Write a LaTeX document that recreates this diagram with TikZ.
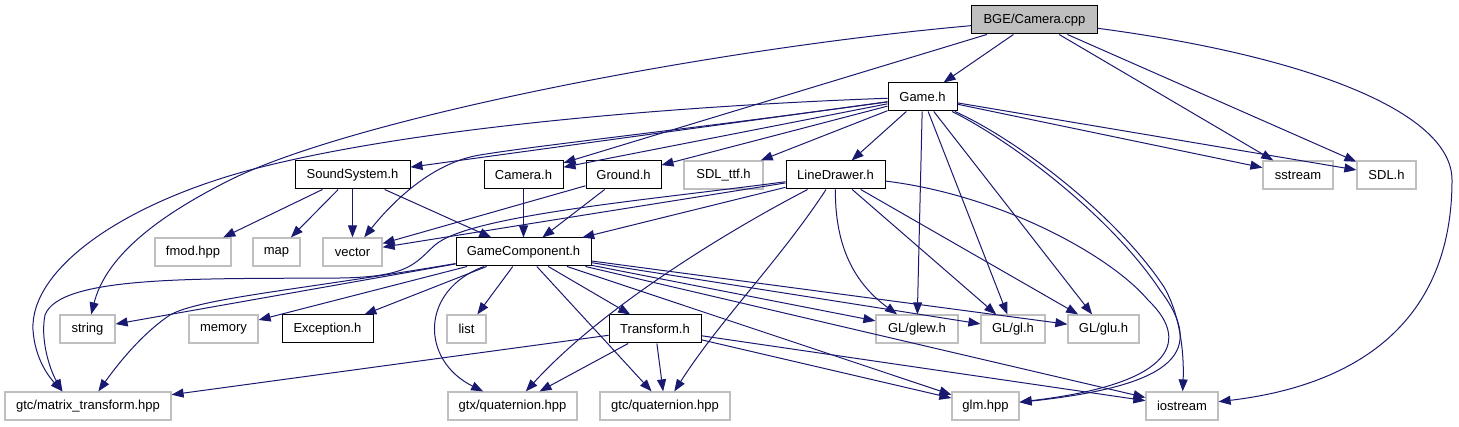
\documentclass[tikz,border=0pt]{standalone}
\usepackage{fontspec}
\setmainfont{Liberation Sans}
\usetikzlibrary{arrows.meta}
\definecolor{edgeblue}{HTML}{191970}
\definecolor{boxgray}{HTML}{BFBFBF}

\begin{document}
\begin{tikzpicture}[x=1pt, y=-1pt,
  hdr/.style={draw=black, line width=1pt, minimum height=28pt, inner sep=0pt, font=\fontsize{13}{15}\selectfont},
  ext/.style={hdr, draw=boxgray, line width=1.2pt},
  cur/.style={hdr, fill=boxgray},
  inc/.style={-{Triangle[length=12pt, width=9pt]}, draw=edgeblue, line width=1pt}
]
\useasboundingbox (0,0) rectangle (1459,427);
\node[cur, minimum width=126pt] (cpp) at (1034.5,20) {BGE/Camera.cpp};
\node[hdr, minimum width=69pt] (game) at (922.5,97) {Game.h};
\node[hdr, minimum width=115pt] (sound) at (352.5,175) {SoundSystem.h};
\node[hdr, minimum width=79pt] (camh) at (523.5,175) {Camera.h};
\node[hdr, minimum width=75pt] (ground) at (623.5,175) {Ground.h};
\node[ext, minimum width=79pt] (sdlttf) at (723.5,175) {SDL\_ttf.h};
\node[hdr, minimum width=99pt] (liner) at (835.5,175) {LineDrawer.h};
\node[ext, minimum width=70pt] (sstream) at (1298,175) {sstream};
\node[ext, minimum width=59pt] (sdl) at (1386.5,175) {SDL.h};
\node[ext, minimum width=76pt] (fmod) at (193,252) {fmod.hpp};
\node[ext, minimum width=47pt] (map) at (276.5,252) {map};
\node[ext, minimum width=59pt] (vector) at (352.5,252) {vector};
\node[hdr, minimum width=135pt] (gcomp) at (523.5,252) {GameComponent.h};
\node[ext, minimum width=55pt] (string) at (87.5,329) {string};
\node[ext, minimum width=69pt] (memory) at (223.5,329) {memory};
\node[hdr, minimum width=91pt] (except) at (327.5,329) {Exception.h};
\node[ext, minimum width=39pt] (list) at (466.5,329) {list};
\node[hdr, minimum width=92pt] (transf) at (655,329) {Transform.h};
\node[ext, minimum width=82pt] (glew) at (917,329) {GL/glew.h};
\node[ext, minimum width=64pt] (gl) at (1013,329) {GL/gl.h};
\node[ext, minimum width=71pt] (glu) at (1103.5,329) {GL/glu.h};
\node[ext, minimum width=166pt] (mtrans) at (88,406) {gtc/matrix\_transform.hpp};
\node[ext, minimum width=129pt] (gtxq) at (512.5,406) {gtx/quaternion.hpp};
\node[ext, minimum width=130pt] (gtcq) at (665,406) {gtc/quaternion.hpp};
\node[ext, minimum width=67pt] (glm) at (985.5,406) {glm.hpp};
\node[ext, minimum width=72pt] (iostr) at (1182,406) {iostream};

\draw[inc] (cpp) -- (game);
\draw[inc] (cpp) -- (camh);
\draw[inc] (cpp) .. controls (700,50) and (350,120) .. (230,180) .. controls (150,220) and (105,260) .. (string);
\draw[inc] (cpp) -- (sstream);
\draw[inc] (cpp) -- (sdl);
\draw[inc] (cpp) .. controls (1300,55) and (1452,110) .. (1452,180) .. controls (1452,320) and (1360,385) .. (iostr);

\draw[inc] (game) -- (sound);
\draw[inc] (game) -- (camh);
\draw[inc] (game) -- (ground);
\draw[inc] (game) -- (sdlttf);
\draw[inc] (game) -- (liner);
\draw[inc] (game) .. controls (700,128) and (540,145) .. (480,155) .. controls (430,163) and (390,205) .. (vector);
\draw[inc] (game) .. controls (700,105) and (420,125) .. (250,170) .. controls (120,205) and (30,270) .. (33,330) .. controls (35,360) and (50,378) .. ([xshift=58pt]mtrans.north west);
\draw[inc] (game) -- (sstream);
\draw[inc] (game) -- (sdl);
\draw[inc] (game) -- (glew);
\draw[inc] (game) -- (gl);
\draw[inc] (game) -- (glu);
\draw[inc] (game) .. controls (1010,140) and (1110,215) .. (1160,290) .. controls (1205,350) and (1180,385) .. (glm);
\draw[inc] (game) .. controls (1014,138) and (1114,212) .. (1164,287) .. controls (1182,318) and (1184,360) .. (iostr);

\draw[inc] (liner) -- (vector);
\draw[inc] (liner) -- (gcomp);
\draw[inc] (liner) .. controls (650,200) and (470,215) .. (435,245) .. controls (415,263) and (410,277) .. (340,278) .. controls (200,279) and (60,275) .. (45,315) .. controls (40,340) and (50,370) .. ([xshift=58pt]mtrans.north west);
\draw[inc] (liner) .. controls (720,235) and (600,310) .. (gtxq);
\draw[inc] (liner) .. controls (780,260) and (720,320) .. (gtcq);
\draw[inc] (liner) .. controls (835,240) and (850,280) .. (glew);
\draw[inc] (liner) -- (gl);
\draw[inc] (liner) -- (glu);
\draw[inc] (liner) .. controls (1000,195) and (1110,255) .. (1148,300) .. controls (1195,345) and (1165,385) .. (glm);

\draw[inc] (sound) -- (fmod);
\draw[inc] (sound) -- (map);
\draw[inc] (sound) -- (vector);
\draw[inc] (sound) -- (gcomp);
\draw[inc] (camh) -- (gcomp);
\draw[inc] (ground) -- (vector);
\draw[inc] (ground) -- (gcomp);

\draw[inc] (gcomp) -- (string);
\draw[inc] (gcomp) .. controls (300,290) and (200,298) .. (170,315) .. controls (140,335) and (115,368) .. (mtrans);
\draw[inc] (gcomp) -- (memory);
\draw[inc] (gcomp) -- (except);
\draw[inc] (gcomp) -- (list);
\draw[inc] (gcomp) .. controls (420,290) and (420,360) .. (gtxq);
\draw[inc] (gcomp) -- (gtcq);
\draw[inc] (gcomp) -- (transf);
\draw[inc] (gcomp) -- (glew);
\draw[inc] (gcomp) -- (gl);
\draw[inc] (gcomp) -- (glu);
\draw[inc] (gcomp) -- (glm);
\draw[inc] (gcomp) -- (iostr);

\draw[inc] (transf) -- (mtrans);
\draw[inc] (transf) -- (gtxq);
\draw[inc] (transf) -- (gtcq);
\draw[inc] (transf) -- (glm);
\draw[inc] (transf) -- (iostr);
\end{tikzpicture}
\end{document}
